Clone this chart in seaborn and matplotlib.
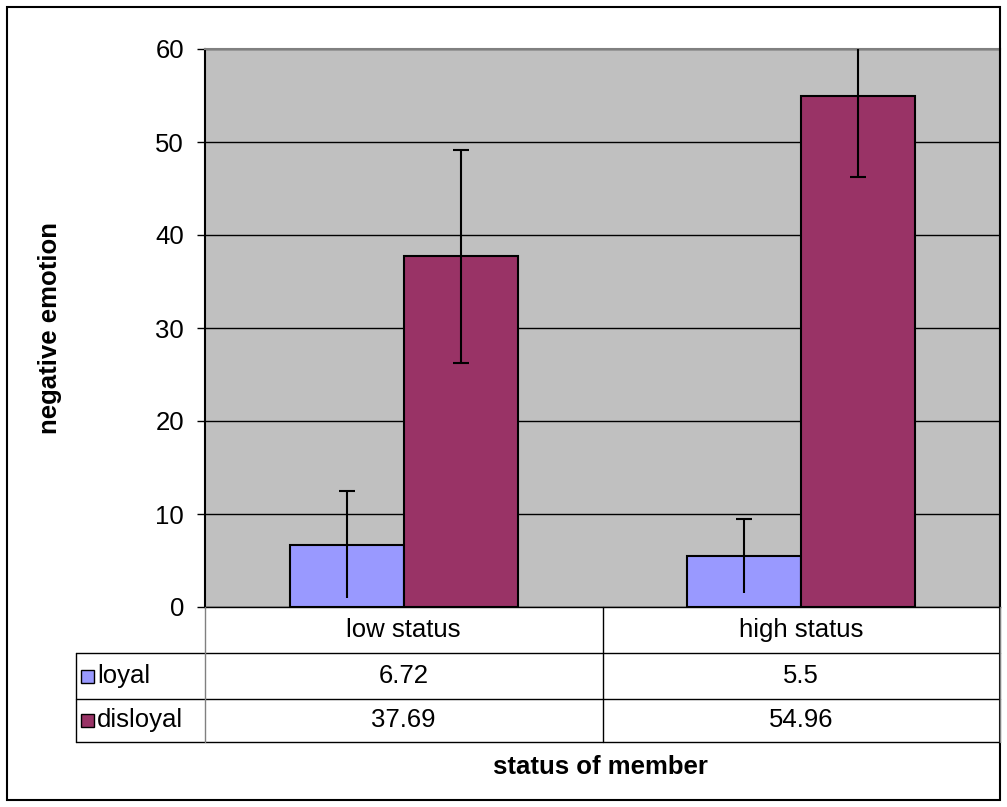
import matplotlib
matplotlib.use('Agg')
import matplotlib.pyplot as plt
import seaborn as sns
import pandas as pd
from matplotlib.patches import Rectangle
from matplotlib.lines import Line2D
from matplotlib.transforms import blended_transform_factory

# data
statuses = ['low status', 'high status']
groups = ['loyal', 'disloyal']
loyal = [6.72, 5.5]
disloyal = [37.69, 54.96]
loyal_err = [5.7, 3.98]
disloyal_err = [11.5, 8.76]
colors = ['#9999FF', '#993366']
yticks = [0, 10, 20, 30, 40, 50, 60]

sns.set_theme(style='white', rc={'text.color': 'black', 'ytick.color': 'black',
                                 'axes.labelcolor': 'black'})
plt.rcParams['font.family'] = ['Liberation Sans', 'DejaVu Sans']
FS = 18.5

W, H = 1007, 807
fig = plt.figure(figsize=(W / 100, H / 100), dpi=100)


def fx(px):
    return px / W


def fy(py):
    return 1 - py / H


ax = fig.add_axes([fx(205), fy(607), fx(1000) - fx(205), fy(49) - fy(607)])
ax.set_facecolor('#C0C0C0')

df = pd.DataFrame({
    'status': statuses * 2,
    'group': ['loyal'] * 2 + ['disloyal'] * 2,
    'value': loyal + disloyal,
})
sns.barplot(data=df, x='status', y='value', hue='group', hue_order=groups,
            palette=colors, width=0.573, errorbar=None, edgecolor='black',
            linewidth=1.5, saturation=1, legend=False, ax=ax)

# error bars (loyal bars show no lower cap in the original)
for cont, vals, errs, lower_cap in zip(ax.containers, [loyal, disloyal],
                                       [loyal_err, disloyal_err], [False, True]):
    xs = [b.get_x() + b.get_width() / 2 for b in cont]
    ax.errorbar(xs, vals, yerr=errs, fmt='none', ecolor='black',
                elinewidth=1.5, capsize=0, zorder=5)
    ax.plot(xs, [v + e for v, e in zip(vals, errs)], ls='none', marker='_',
            ms=11, mew=1.5, color='black', zorder=5)
    if lower_cap:
        ax.plot(xs, [v - e for v, e in zip(vals, errs)], ls='none', marker='_',
                ms=11, mew=1.5, color='black', zorder=5)

ax.set_xlim(-0.5, 1.5)
ax.set_ylim(0, 60)
ax.set_yticks(yticks)
ax.yaxis.grid(True, color='black', lw=1)
ax.set_axisbelow(True)
ax.set_xlabel('')
ax.set_ylabel('')
ax.set_xticklabels([])
ax.tick_params(axis='x', length=0)
ax.tick_params(axis='y', direction='out', left=True, length=6, width=1,
               color='black', labelcolor='black', labelsize=FS, pad=9)
ax.spines['left'].set_color('black')
ax.spines['left'].set_linewidth(1.5)
ax.spines['bottom'].set_color('black')
ax.spines['bottom'].set_linewidth(1)
for s in ['top', 'right']:
    ax.spines[s].set_color('#808080')
    ax.spines[s].set_linewidth(1.5)


def hline(x0, x1, y, color='black'):
    fig.add_artist(Line2D([fx(x0), fx(x1)], [fy(y), fy(y)],
                          transform=fig.transFigure, color=color, lw=1))


def vline(x, y0, y1, color='black'):
    fig.add_artist(Line2D([fx(x), fx(x)], [fy(y0), fy(y1)],
                          transform=fig.transFigure, color=color, lw=1))


# data table under the plot
hline(76, 1000, 653)
hline(76, 1000, 699)
hline(76, 1000, 742)
vline(76, 653, 742)
vline(205, 607, 742, color='#808080')
vline(603, 607, 742)
vline(1000, 607, 742, color='#808080')

trans = blended_transform_factory(ax.transData, fig.transFigure)
row_y = [fy(676), fy(720)]
for i, s in enumerate(statuses):
    ax.text(i, fy(630), s, transform=trans, ha='center', va='center', fontsize=FS)
    ax.text(i, row_y[0], f'{loyal[i]:g}', transform=trans, ha='center', va='center', fontsize=FS)
    ax.text(i, row_y[1], f'{disloyal[i]:g}', transform=trans, ha='center', va='center', fontsize=FS)

for g, c, y in zip(groups, colors, row_y):
    fig.add_artist(Rectangle((fx(81), y - 6.5 / H), 13 / W, 13 / H,
                             transform=fig.transFigure, facecolor=c,
                             edgecolor='black', lw=1))
    fig.text(fx(97), y, g, ha='left', va='center', fontsize=FS)

fig.text(fx(600), fy(767), 'status of member', ha='center', va='center',
         fontsize=FS, fontweight='bold')
fig.text(fx(50), fy(328), 'negative emotion', ha='center', va='center',
         rotation=90, fontsize=FS, fontweight='bold')

# outer chart border
fig.add_artist(Rectangle((fx(7), fy(800)), fx(1000) - fx(7), fy(7) - fy(800),
                         transform=fig.transFigure, fill=False,
                         edgecolor='black', lw=1.5))

fig.savefig('out.png', dpi=100)
